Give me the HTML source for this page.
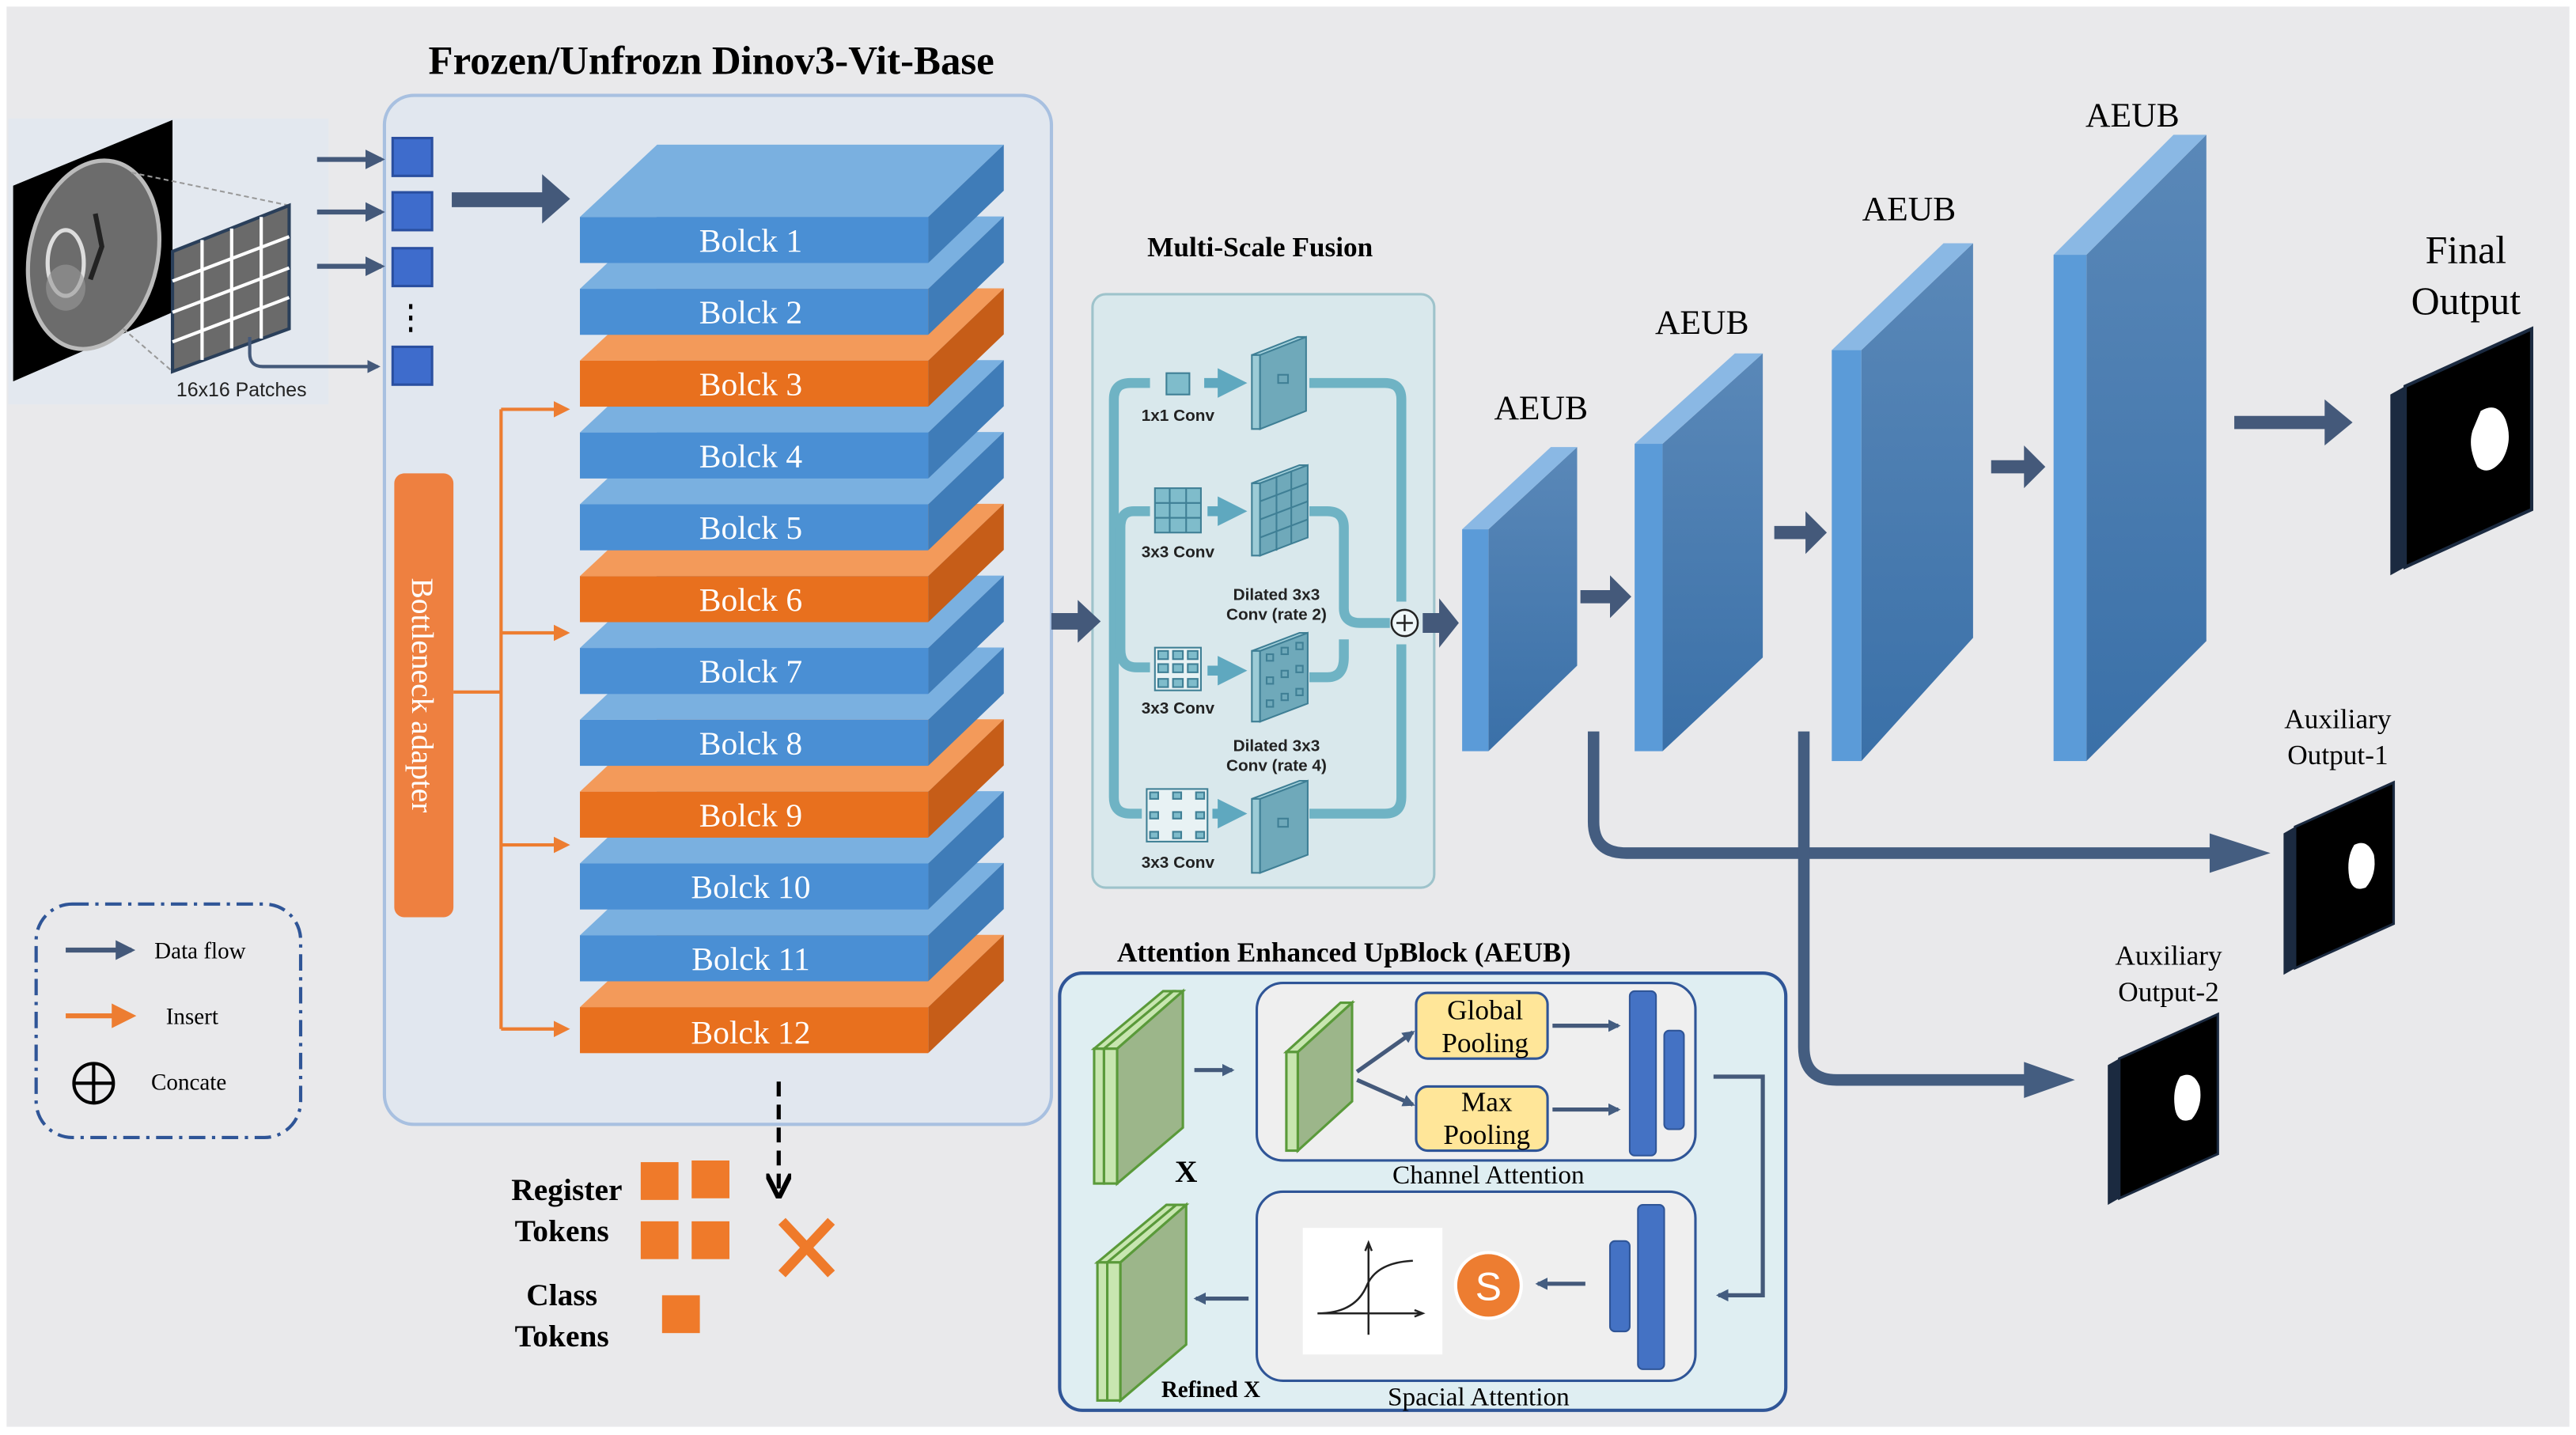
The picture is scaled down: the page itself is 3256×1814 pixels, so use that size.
<!DOCTYPE html>
<html><head><meta charset="utf-8"><style>
html,body{margin:0;padding:0;background:#fff;}
svg{display:block;}
.serif{font-family:"Liberation Serif",serif;}
.sans{font-family:"Liberation Sans",sans-serif;}
</style></head><body>
<svg width="3256" height="1814" viewBox="0 0 1568 873" preserveAspectRatio="none" xmlns="http://www.w3.org/2000/svg">
<defs>
<marker id="ad" viewBox="0 0 10 10" refX="8" refY="5" markerWidth="4" markerHeight="4" orient="auto"><path d="M0,0 L10,5 L0,10 Z" fill="#44597a"/></marker>
<marker id="ao" viewBox="0 0 10 10" refX="8" refY="5" markerWidth="5" markerHeight="5" orient="auto"><path d="M0,0 L10,5 L0,10 Z" fill="#ed7d31"/></marker>
<marker id="ab" viewBox="0 0 10 10" refX="8" refY="5" markerWidth="6" markerHeight="6" orient="auto"><path d="M0,0 L10,5 L0,10" fill="none" stroke="#000" stroke-width="2"/></marker>
<marker id="at" viewBox="0 0 10 10" refX="6" refY="5" markerWidth="3" markerHeight="3" orient="auto"><path d="M0,0 L10,5 L0,10 Z" fill="#5fa8bf"/></marker>
<marker id="ap" viewBox="0 0 10 10" refX="8" refY="5" markerWidth="3" markerHeight="3" orient="auto"><path d="M0,0 L10,5 L0,10 Z" fill="#445d80"/></marker>
<linearGradient id="gb" x1="0" y1="0" x2="0" y2="1"><stop offset="0" stop-color="#5a88b8"/><stop offset="1" stop-color="#3a70a8"/></linearGradient>
</defs>
<rect x="0" y="0" width="1568" height="873" fill="#fff"/>
<rect x="4" y="4" width="1560" height="864" fill="#e9e9eb"/>

<text x="433" y="45" class="serif" font-size="24.5" font-weight="bold" text-anchor="middle">Frozen/Unfrozn Dinov3-Vit-Base</text>
<rect x="234" y="58" width="406" height="626" rx="18" fill="#e1e7ef" stroke="#a8c0e0" stroke-width="2"/>

<!-- brain -->
<rect x="5" y="72" width="195" height="174" fill="#e3e8ef"/>
<polygon points="8,113 105,73 105,190 8,232" fill="#000"/>
<ellipse cx="57" cy="155" rx="39" ry="58" fill="#6c6c6c" stroke="#bbb" stroke-width="2.5" transform="rotate(12 57 155)"/>
<ellipse cx="40" cy="160" rx="11" ry="20" fill="none" stroke="#ddd" stroke-width="2.5"/>
<ellipse cx="40" cy="175" rx="12" ry="14" fill="#999" opacity="0.6"/>
<path d="M58,130 L62,150 L55,170" stroke="#222" stroke-width="3" fill="none"/>
<g stroke="#999" stroke-width="1" stroke-dasharray="3,2"><line x1="80" y1="105" x2="176" y2="125"/><line x1="75" y1="200" x2="105" y2="226"/></g>
<polygon points="105,153 176,125 176,200 105,226" fill="#6a6a6a" stroke="#2a3f5a" stroke-width="2"/>
<g stroke="#fff" stroke-width="2"><line x1="123" y1="146" x2="123" y2="219"/><line x1="141" y1="139" x2="141" y2="212"/><line x1="159" y1="132" x2="159" y2="206"/><line x1="105" y1="171" x2="176" y2="144"/><line x1="105" y1="190" x2="176" y2="163"/><line x1="105" y1="208" x2="176" y2="181"/></g>
<text x="147" y="241" class="sans" font-size="12" text-anchor="middle" fill="#222">16x16 Patches</text>
<path d="M152,205 L152,215 Q152,223 160,223 L230,223" fill="none" stroke="#44597a" stroke-width="2" marker-end="url(#ad)"/>
<g stroke="#44597a" stroke-width="3" marker-end="url(#ad)"><line x1="193" y1="97" x2="232" y2="97"/><line x1="193" y1="129" x2="232" y2="129"/><line x1="193" y1="162" x2="232" y2="162"/></g>
<g fill="#3e6ccc" stroke="#2a4fa0" stroke-width="1.5"><rect x="239" y="84" width="24" height="23"/><rect x="239" y="117" width="24" height="23"/><rect x="239" y="151" width="24" height="23"/><rect x="239" y="211" width="24" height="23"/></g>
<g fill="#000"><rect x="249" y="185" width="2" height="3"/><rect x="249" y="192" width="2" height="3"/><rect x="249" y="199" width="2" height="3"/></g>
<polygon points="275,117 330,117 330,106 347,121 330,136 330,126 275,126" fill="#44597a"/>

<g class="serif" font-size="20" fill="#fff" text-anchor="middle">
<g transform="translate(0,480.7)"><polygon points="353,132 400,88 611,88 565,132" fill="#f39a5a"/><polygon points="565,132 611,88 611,116 565,160" fill="#c65d18"/><rect x="353" y="132" width="212" height="28" fill="#e8701e"/><text x="457" y="154">Bolck 12</text></g>
<g transform="translate(0,437)"><polygon points="353,132 400,88 611,88 565,132" fill="#7ab0e0"/><polygon points="565,132 611,88 611,116 565,160" fill="#3f7cb8"/><rect x="353" y="132" width="212" height="28" fill="#4a8fd4"/><text x="457" y="153">Bolck 11</text></g>
<g transform="translate(0,393.3)"><polygon points="353,132 400,88 611,88 565,132" fill="#7ab0e0"/><polygon points="565,132 611,88 611,116 565,160" fill="#3f7cb8"/><rect x="353" y="132" width="212" height="28" fill="#4a8fd4"/><text x="457" y="153">Bolck 10</text></g>
<g transform="translate(0,349.6)"><polygon points="353,132 400,88 611,88 565,132" fill="#f39a5a"/><polygon points="565,132 611,88 611,116 565,160" fill="#c65d18"/><rect x="353" y="132" width="212" height="28" fill="#e8701e"/><text x="457" y="153">Bolck 9</text></g>
<g transform="translate(0,305.9)"><polygon points="353,132 400,88 611,88 565,132" fill="#7ab0e0"/><polygon points="565,132 611,88 611,116 565,160" fill="#3f7cb8"/><rect x="353" y="132" width="212" height="28" fill="#4a8fd4"/><text x="457" y="153">Bolck 8</text></g>
<g transform="translate(0,262.2)"><polygon points="353,132 400,88 611,88 565,132" fill="#7ab0e0"/><polygon points="565,132 611,88 611,116 565,160" fill="#3f7cb8"/><rect x="353" y="132" width="212" height="28" fill="#4a8fd4"/><text x="457" y="153">Bolck 7</text></g>
<g transform="translate(0,218.5)"><polygon points="353,132 400,88 611,88 565,132" fill="#f39a5a"/><polygon points="565,132 611,88 611,116 565,160" fill="#c65d18"/><rect x="353" y="132" width="212" height="28" fill="#e8701e"/><text x="457" y="153">Bolck 6</text></g>
<g transform="translate(0,174.8)"><polygon points="353,132 400,88 611,88 565,132" fill="#7ab0e0"/><polygon points="565,132 611,88 611,116 565,160" fill="#3f7cb8"/><rect x="353" y="132" width="212" height="28" fill="#4a8fd4"/><text x="457" y="153">Bolck 5</text></g>
<g transform="translate(0,131.1)"><polygon points="353,132 400,88 611,88 565,132" fill="#7ab0e0"/><polygon points="565,132 611,88 611,116 565,160" fill="#3f7cb8"/><rect x="353" y="132" width="212" height="28" fill="#4a8fd4"/><text x="457" y="153">Bolck 4</text></g>
<g transform="translate(0,87.4)"><polygon points="353,132 400,88 611,88 565,132" fill="#f39a5a"/><polygon points="565,132 611,88 611,116 565,160" fill="#c65d18"/><rect x="353" y="132" width="212" height="28" fill="#e8701e"/><text x="457" y="153">Bolck 3</text></g>
<g transform="translate(0,43.7)"><polygon points="353,132 400,88 611,88 565,132" fill="#7ab0e0"/><polygon points="565,132 611,88 611,116 565,160" fill="#3f7cb8"/><rect x="353" y="132" width="212" height="28" fill="#4a8fd4"/><text x="457" y="153">Bolck 2</text></g>
<g><polygon points="353,132 400,88 611,88 565,132" fill="#7ab0e0"/><polygon points="565,132 611,88 611,116 565,160" fill="#3f7cb8"/><rect x="353" y="132" width="212" height="28" fill="#4a8fd4"/><text x="457" y="153">Bolck 1</text></g>
</g>

<rect x="240" y="288" width="36" height="270" rx="6" fill="#ee8040"/>
<text transform="translate(251,423) rotate(90)" class="serif" font-size="19" fill="#fff" text-anchor="middle">Bottleneck adapter</text>
<g stroke="#ed7d31" stroke-width="2" fill="none">
<line x1="276" y1="421" x2="305" y2="421"/><line x1="305" y1="249" x2="305" y2="626"/>
<line x1="305" y1="249" x2="345" y2="249" marker-end="url(#ao)"/><line x1="305" y1="385" x2="345" y2="385" marker-end="url(#ao)"/><line x1="305" y1="514" x2="345" y2="514" marker-end="url(#ao)"/><line x1="305" y1="626" x2="345" y2="626" marker-end="url(#ao)"/>
</g>

<line x1="474" y1="658" x2="474" y2="726" stroke="#000" stroke-width="2.5" stroke-dasharray="9,5" marker-end="url(#ab)"/>
<g class="serif" font-size="19" font-weight="bold" text-anchor="middle"><text x="345" y="730">Register</text><text x="342" y="755">Tokens</text><text x="342" y="794">Class</text><text x="342" y="819">Tokens</text></g>
<g fill="#ef7a2a"><rect x="390" y="707" width="23" height="23"/><rect x="421" y="706" width="23" height="23"/><rect x="390" y="743" width="23" height="23"/><rect x="421" y="743" width="23" height="23"/><rect x="403" y="788" width="23" height="23"/></g>
<g stroke="#ef7a2a" stroke-width="6"><line x1="476" y1="743" x2="506" y2="775"/><line x1="506" y1="743" x2="476" y2="775"/></g>

<rect x="22" y="550" width="161" height="142" rx="22" fill="none" stroke="#2f5597" stroke-width="2" stroke-dasharray="10,4,2,4"/>
<line x1="40" y1="578" x2="80" y2="578" stroke="#44597a" stroke-width="3" marker-end="url(#ad)"/>
<line x1="40" y1="618" x2="80" y2="618" stroke="#ed7d31" stroke-width="3" marker-end="url(#ao)"/>
<circle cx="57" cy="659" r="12" fill="none" stroke="#000" stroke-width="2"/><line x1="45" y1="659" x2="69" y2="659" stroke="#000" stroke-width="2"/><line x1="57" y1="647" x2="57" y2="671" stroke="#000" stroke-width="2"/>
<g class="serif" font-size="14"><text x="94" y="583">Data flow</text><text x="101" y="623">Insert</text><text x="92" y="663">Concate</text></g>

<text x="767" y="156" class="serif" font-size="17" font-weight="bold" text-anchor="middle">Multi-Scale Fusion</text>
<rect x="665" y="179" width="208" height="361" rx="8" fill="#d9e8ec" stroke="#9ec3cb" stroke-width="1.5"/>
<polygon points="640,373 656,373 656,365 670,378 656,391 656,383 640,383" fill="#44597a"/>
<g fill="none" stroke="#6fb3c4" stroke-width="6">
<path d="M700,233 L688,233 Q678,233 678,243 L678,485 Q678,495 688,495 L695,495"/>
<path d="M700,311 L690,311 Q682,311 682,321 L682,395 Q682,406 692,406 L700,406"/>
<path d="M797,233 L843,233 Q853,233 853,243 L853,366"/>
<path d="M797,311 L808,311 Q818,311 818,321 L818,370 Q818,379 828,379 L846,379"/>
<path d="M797,412 L808,412 Q818,412 818,400 L818,389"/>
<path d="M797,495 L843,495 Q853,495 853,485 L853,392"/>
</g>
<g stroke="#5fa8bf" stroke-width="6" marker-end="url(#at)"><line x1="733" y1="233" x2="752" y2="233"/><line x1="735" y1="311" x2="752" y2="311"/><line x1="735" y1="408" x2="752" y2="408"/><line x1="738" y1="495" x2="752" y2="495"/></g>
<g fill="#7fbccb" stroke="#3f7f95" stroke-width="1">
<rect x="710" y="227" width="14" height="13"/>
<rect x="703" y="297" width="28" height="27"/><path d="M712,297 V324 M722,297 V324 M703,306 H731 M703,315 H731" stroke="#3f7f95"/>
<rect x="703" y="394" width="28" height="26" fill="#e8f2f4"/>
<rect x="698" y="480" width="37" height="32" fill="#e8f2f4"/>
</g>
<g fill="#7fbccb" stroke="#3f7f95"><rect x="705" y="396" width="6" height="5"/><rect x="714" y="396" width="6" height="5"/><rect x="723" y="396" width="6" height="5"/><rect x="705" y="404" width="6" height="5"/><rect x="714" y="404" width="6" height="5"/><rect x="723" y="404" width="6" height="5"/><rect x="705" y="413" width="6" height="5"/><rect x="714" y="413" width="6" height="5"/><rect x="723" y="413" width="6" height="5"/>
<rect x="700" y="482" width="5" height="4"/><rect x="714" y="482" width="5" height="4"/><rect x="728" y="482" width="5" height="4"/><rect x="700" y="494" width="5" height="4"/><rect x="714" y="494" width="5" height="4"/><rect x="728" y="494" width="5" height="4"/><rect x="700" y="506" width="5" height="4"/><rect x="714" y="506" width="5" height="4"/><rect x="728" y="506" width="5" height="4"/></g>
<g stroke="#3f7f95" stroke-width="1">
<g><polygon points="762,216 767,216 795,205 790,205" fill="#a8d4de"/><polygon points="762,216 767,216 767,261 762,261" fill="#9ccbd6"/><polygon points="767,216 795,205 795,250 767,261" fill="#6fa9ba"/><rect x="778" y="228" width="6" height="5" fill="none"/></g>
<g><polygon points="762,294 767,294 796,283 791,283" fill="#a8d4de"/><polygon points="762,294 767,294 767,338 762,338" fill="#9ccbd6"/><polygon points="767,294 796,283 796,327 767,338" fill="#6fa9ba"/><path d="M777,290 V335 M786,287 V331 M767,305 L796,294 M767,316 L796,305 M767,327 L796,316" fill="none"/></g>
<g><polygon points="762,396 767,396 796,385 791,385" fill="#a8d4de"/><polygon points="762,396 767,396 767,439 762,439" fill="#9ccbd6"/><polygon points="767,396 796,385 796,428 767,439" fill="#6fa9ba"/><rect x="771" y="398" width="4" height="4" fill="none"/><rect x="780" y="394" width="4" height="4" fill="none"/><rect x="789" y="391" width="4" height="4" fill="none"/><rect x="771" y="412" width="4" height="4" fill="none"/><rect x="780" y="408" width="4" height="4" fill="none"/><rect x="789" y="405" width="4" height="4" fill="none"/><rect x="771" y="426" width="4" height="4" fill="none"/><rect x="780" y="422" width="4" height="4" fill="none"/><rect x="789" y="419" width="4" height="4" fill="none"/></g>
<g><polygon points="762,486 767,486 796,475 791,475" fill="#a8d4de"/><polygon points="762,486 767,486 767,531 762,531" fill="#9ccbd6"/><polygon points="767,486 796,475 796,520 767,531" fill="#6fa9ba"/><rect x="778" y="498" width="6" height="5" fill="none"/></g>
</g>
<g class="sans" font-size="10" font-weight="bold" fill="#222" text-anchor="middle">
<text x="717" y="256">1x1 Conv</text><text x="717" y="339">3x3 Conv</text><text x="717" y="434">3x3 Conv</text><text x="717" y="528">3x3 Conv</text>
<text x="777" y="365">Dilated 3x3</text><text x="777" y="377">Conv (rate 2)</text><text x="777" y="457">Dilated 3x3</text><text x="777" y="469">Conv (rate 4)</text>
</g>
<circle cx="855" cy="379" r="8" fill="#eef6f8" stroke="#222" stroke-width="1.2"/><path d="M850,379 H860 M855,374 V384" stroke="#222" stroke-width="1.2"/>
<polygon points="866,373 876,373 876,364 888,379 876,394 876,385 866,385" fill="#44597a"/>

<g class="serif" font-size="21" text-anchor="middle"><text x="938" y="255">AEUB</text><text x="1036" y="203">AEUB</text><text x="1162" y="134">AEUB</text><text x="1298" y="77">AEUB</text><text x="1501" y="160" font-size="24">Final</text><text x="1501" y="191" font-size="24">Output</text>
<text x="1423" y="443" font-size="17">Auxiliary</text><text x="1423" y="465" font-size="17">Output-1</text><text x="1320" y="587" font-size="17">Auxiliary</text><text x="1320" y="609" font-size="17">Output-2</text></g>
<g>
<polygon points="906,322 960,272 960,405 906,457" fill="url(#gb)"/><polygon points="890,322 906,322 960,272 944,272" fill="#8ab8e4"/><rect x="890" y="322" width="16" height="135" fill="#5b9bd8"/>
<polygon points="1012,270 1073,215 1073,400 1012,457" fill="url(#gb)"/><polygon points="995,270 1012,270 1073,215 1056,215" fill="#8ab8e4"/><rect x="995" y="270" width="17" height="187" fill="#5b9bd8"/>
<polygon points="1133,213 1201,148 1201,388 1133,463" fill="url(#gb)"/><polygon points="1115,213 1133,213 1201,148 1183,148" fill="#8ab8e4"/><rect x="1115" y="213" width="18" height="250" fill="#5b9bd8"/>
<polygon points="1270,155 1343,82 1343,390 1270,463" fill="url(#gb)"/><polygon points="1250,155 1270,155 1343,82 1323,82" fill="#8ab8e4"/><rect x="1250" y="155" width="20" height="308" fill="#5b9bd8"/>
</g>
<g fill="#44597a">
<polygon points="962,359 980,359 980,350 993,363 980,376 980,367 962,367"/>
<polygon points="1080,320 1099,320 1099,311 1112,324 1099,337 1099,328 1080,328"/>
<polygon points="1212,280 1232,280 1232,271 1245,284 1232,297 1232,288 1212,288"/>
<polygon points="1360,253 1415,253 1415,243 1432,257 1415,271 1415,261 1360,261"/>
</g>
<g fill="none" stroke="#445d80" stroke-width="7">
<path d="M970,445 L970,500 Q970,519 990,519 L1360,519"/>
<path d="M1098,445 L1098,637 Q1098,657 1118,657 L1245,657"/>
</g>
<polygon points="1345,507 1382,519 1345,531" fill="#445d80"/>
<polygon points="1232,646 1263,657 1232,668" fill="#445d80"/>
<g><polygon points="1455,240 1464,235 1464,345 1455,350" fill="#1b2a40"/><polygon points="1464,235 1541,200 1541,310 1464,345" fill="#000" stroke="#1b2a40" stroke-width="2"/><path d="M1510,250 Q1520,244 1525,255 Q1530,268 1523,280 Q1515,290 1508,284 Q1502,272 1505,262 Z" fill="#fff"/></g>
<g><polygon points="1390,507 1397,503 1397,589 1390,593" fill="#1b2a40"/><polygon points="1397,503 1457,476 1457,562 1397,589" fill="#000" stroke="#1b2a40" stroke-width="1.5"/><path d="M1433,514 Q1441,510 1445,520 Q1447,532 1440,540 Q1432,543 1430,534 Q1428,522 1433,514 Z" fill="#fff"/></g>
<g><polygon points="1283,648 1290,644 1290,729 1283,733" fill="#1b2a40"/><polygon points="1290,644 1350,617 1350,702 1290,729" fill="#000" stroke="#1b2a40" stroke-width="1.5"/><path d="M1327,655 Q1335,651 1339,661 Q1341,673 1334,681 Q1326,684 1324,675 Q1322,663 1327,655 Z" fill="#fff"/></g>

<text x="818" y="585" class="serif" font-size="17" font-weight="bold" text-anchor="middle">Attention Enhanced UpBlock (AEUB)</text>
<rect x="645" y="592" width="442" height="266" rx="14" fill="#dfeef2" stroke="#2f5597" stroke-width="2"/>
<rect x="765" y="598" width="267" height="108" rx="16" fill="#efefef" stroke="#2f5597" stroke-width="1.5"/>
<rect x="765" y="725" width="267" height="115" rx="16" fill="#efefef" stroke="#2f5597" stroke-width="1.5"/>
<g class="serif" font-size="16" text-anchor="middle"><text x="906" y="720">Channel Attention</text><text x="900" y="855">Spacial Attention</text></g>
<g stroke="#5a9a3a" stroke-width="1.5">
<polygon points="666,638 672,638 714,603 708,603" fill="#c8e6b0"/><rect x="666" y="638" width="6" height="82" fill="#c8e6b0"/>
<polygon points="672,638 680,638 720,603 714,603" fill="#c8e6b0"/><rect x="672" y="638" width="8" height="82" fill="#c8e6b0"/><polygon points="680,638 720,603 720,686 680,720" fill="#9cb68a"/>
<polygon points="668,768 674,768 716,733 710,733" fill="#c8e6b0"/><rect x="668" y="768" width="6" height="84" fill="#c8e6b0"/>
<polygon points="674,768 682,768 722,733 716,733" fill="#c8e6b0"/><rect x="674" y="768" width="8" height="84" fill="#c8e6b0"/><polygon points="682,768 722,733 722,818 682,852" fill="#9cb68a"/>
<polygon points="783,640 790,640 823,610 816,610" fill="#c8e6b0"/><rect x="783" y="640" width="7" height="60" fill="#c8e6b0"/><polygon points="790,640 823,610 823,670 790,700" fill="#9cb68a"/>
</g>
<text x="722" y="719" class="serif" font-size="19" font-weight="bold" text-anchor="middle">X</text>
<text x="737" y="850" class="serif" font-size="14" font-weight="bold" text-anchor="middle">Refined X</text>
<g stroke="#44597a" stroke-width="2.5" marker-end="url(#ap)" fill="none">
<line x1="727" y1="651" x2="750" y2="651"/>
<line x1="826" y1="652" x2="860" y2="628"/><line x1="826" y1="657" x2="860" y2="672"/>
<line x1="945" y1="624" x2="985" y2="624"/><line x1="945" y1="675" x2="985" y2="675"/>
<path d="M1043,655 L1073,655 L1073,788 L1046,788"/>
<line x1="965" y1="781" x2="936" y2="781"/>
<line x1="760" y1="790" x2="728" y2="790"/>
</g>
<g class="serif" font-size="17" text-anchor="middle">
<rect x="862" y="604" width="80" height="40" rx="7" fill="#ffe699" stroke="#2f5597" stroke-width="1.5"/><text x="904" y="620">Global</text><text x="904" y="640">Pooling</text>
<rect x="862" y="661" width="80" height="39" rx="7" fill="#ffe699" stroke="#2f5597" stroke-width="1.5"/><text x="905" y="676">Max</text><text x="905" y="696">Pooling</text>
</g>
<g fill="#4472c4" stroke="#2f5597"><rect x="992" y="603" width="16" height="100" rx="3"/><rect x="1013" y="627" width="12" height="60" rx="3"/><rect x="980" y="755" width="12" height="55" rx="3"/><rect x="997" y="733" width="16" height="100" rx="3"/></g>
<circle cx="906" cy="782" r="20" fill="#ed7d31" stroke="#fff" stroke-width="2"/><text x="906" y="791" class="sans" font-size="24" fill="#fff" text-anchor="middle">S</text>
<rect x="793" y="747" width="85" height="77" fill="#fff"/>
<g stroke="#222" stroke-width="1.2" fill="none"><line x1="802" y1="799" x2="865" y2="799"/><line x1="833" y1="812" x2="833" y2="757"/><path d="M802,799 Q825,799 832,782 Q838,768 860,767"/><path d="M831,761 L833,756 L835,761"/><path d="M861,797 L866,799 L861,801"/></g>
</svg>
</body></html>
